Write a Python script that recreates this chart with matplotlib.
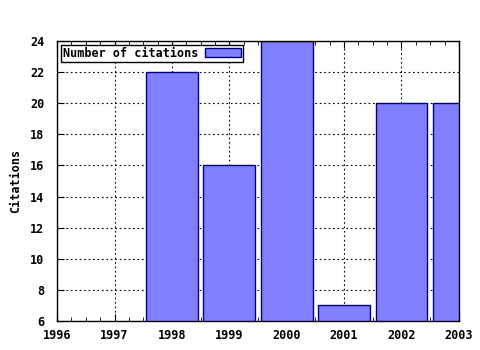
import matplotlib
matplotlib.use("Agg")
import matplotlib.pyplot as plt
from matplotlib.ticker import MultipleLocator

years = [1998, 1999, 2000, 2001, 2002, 2003]
citations = [22, 16, 24, 7, 20, 20]
xticks = [1996, 1997, 1998, 1999, 2000, 2001, 2002, 2003]
yticks = [6, 8, 10, 12, 14, 16, 18, 20, 22, 24]

plt.rcParams['font.family'] = ['DejaVu Sans Mono']
plt.rcParams['font.weight'] = 'bold'
plt.rcParams['axes.labelweight'] = 'bold'
plt.rcParams['font.size'] = 8.5

fig = plt.figure(figsize=(4.8, 3.5), dpi=100)
ax = fig.add_axes([0.119, 0.083, 0.837, 0.8])

ax.bar(years, citations, width=0.9, color='#8080ff', edgecolor='#000080',
       linewidth=1, label='Number of citations', zorder=2)

ax.set_xlim(1996, 2003)
ax.set_ylim(6, 24)
ax.set_xticks(xticks)
ax.set_xticklabels([str(y) for y in xticks])
ax.set_yticks(yticks)
ax.xaxis.set_minor_locator(MultipleLocator(0.25))
ax.tick_params(axis='x', which='both', top=True, direction='in', pad=6)
ax.tick_params(axis='x', which='major', length=5)
ax.tick_params(axis='x', which='minor', length=3)
ax.tick_params(axis='y', direction='in', length=5, right=False, pad=9)
ax.grid(True, which='major', color='black', linestyle=(0, (1.5, 2.5)), linewidth=0.8, zorder=1)
ax.set_axisbelow(True)
for s in ax.spines.values():
    s.set_linewidth(1)
    s.set_zorder(3)

ax.set_ylabel('Citations', labelpad=6)

leg = ax.legend(loc='upper left', markerfirst=False, fancybox=False,
                framealpha=1, edgecolor='black', borderpad=0.15,
                handlelength=3.0, handleheight=0.8, borderaxespad=0.35,
                handletextpad=0.6)
leg.get_frame().set_linewidth(1)

fig.savefig('out.png', dpi=100)
